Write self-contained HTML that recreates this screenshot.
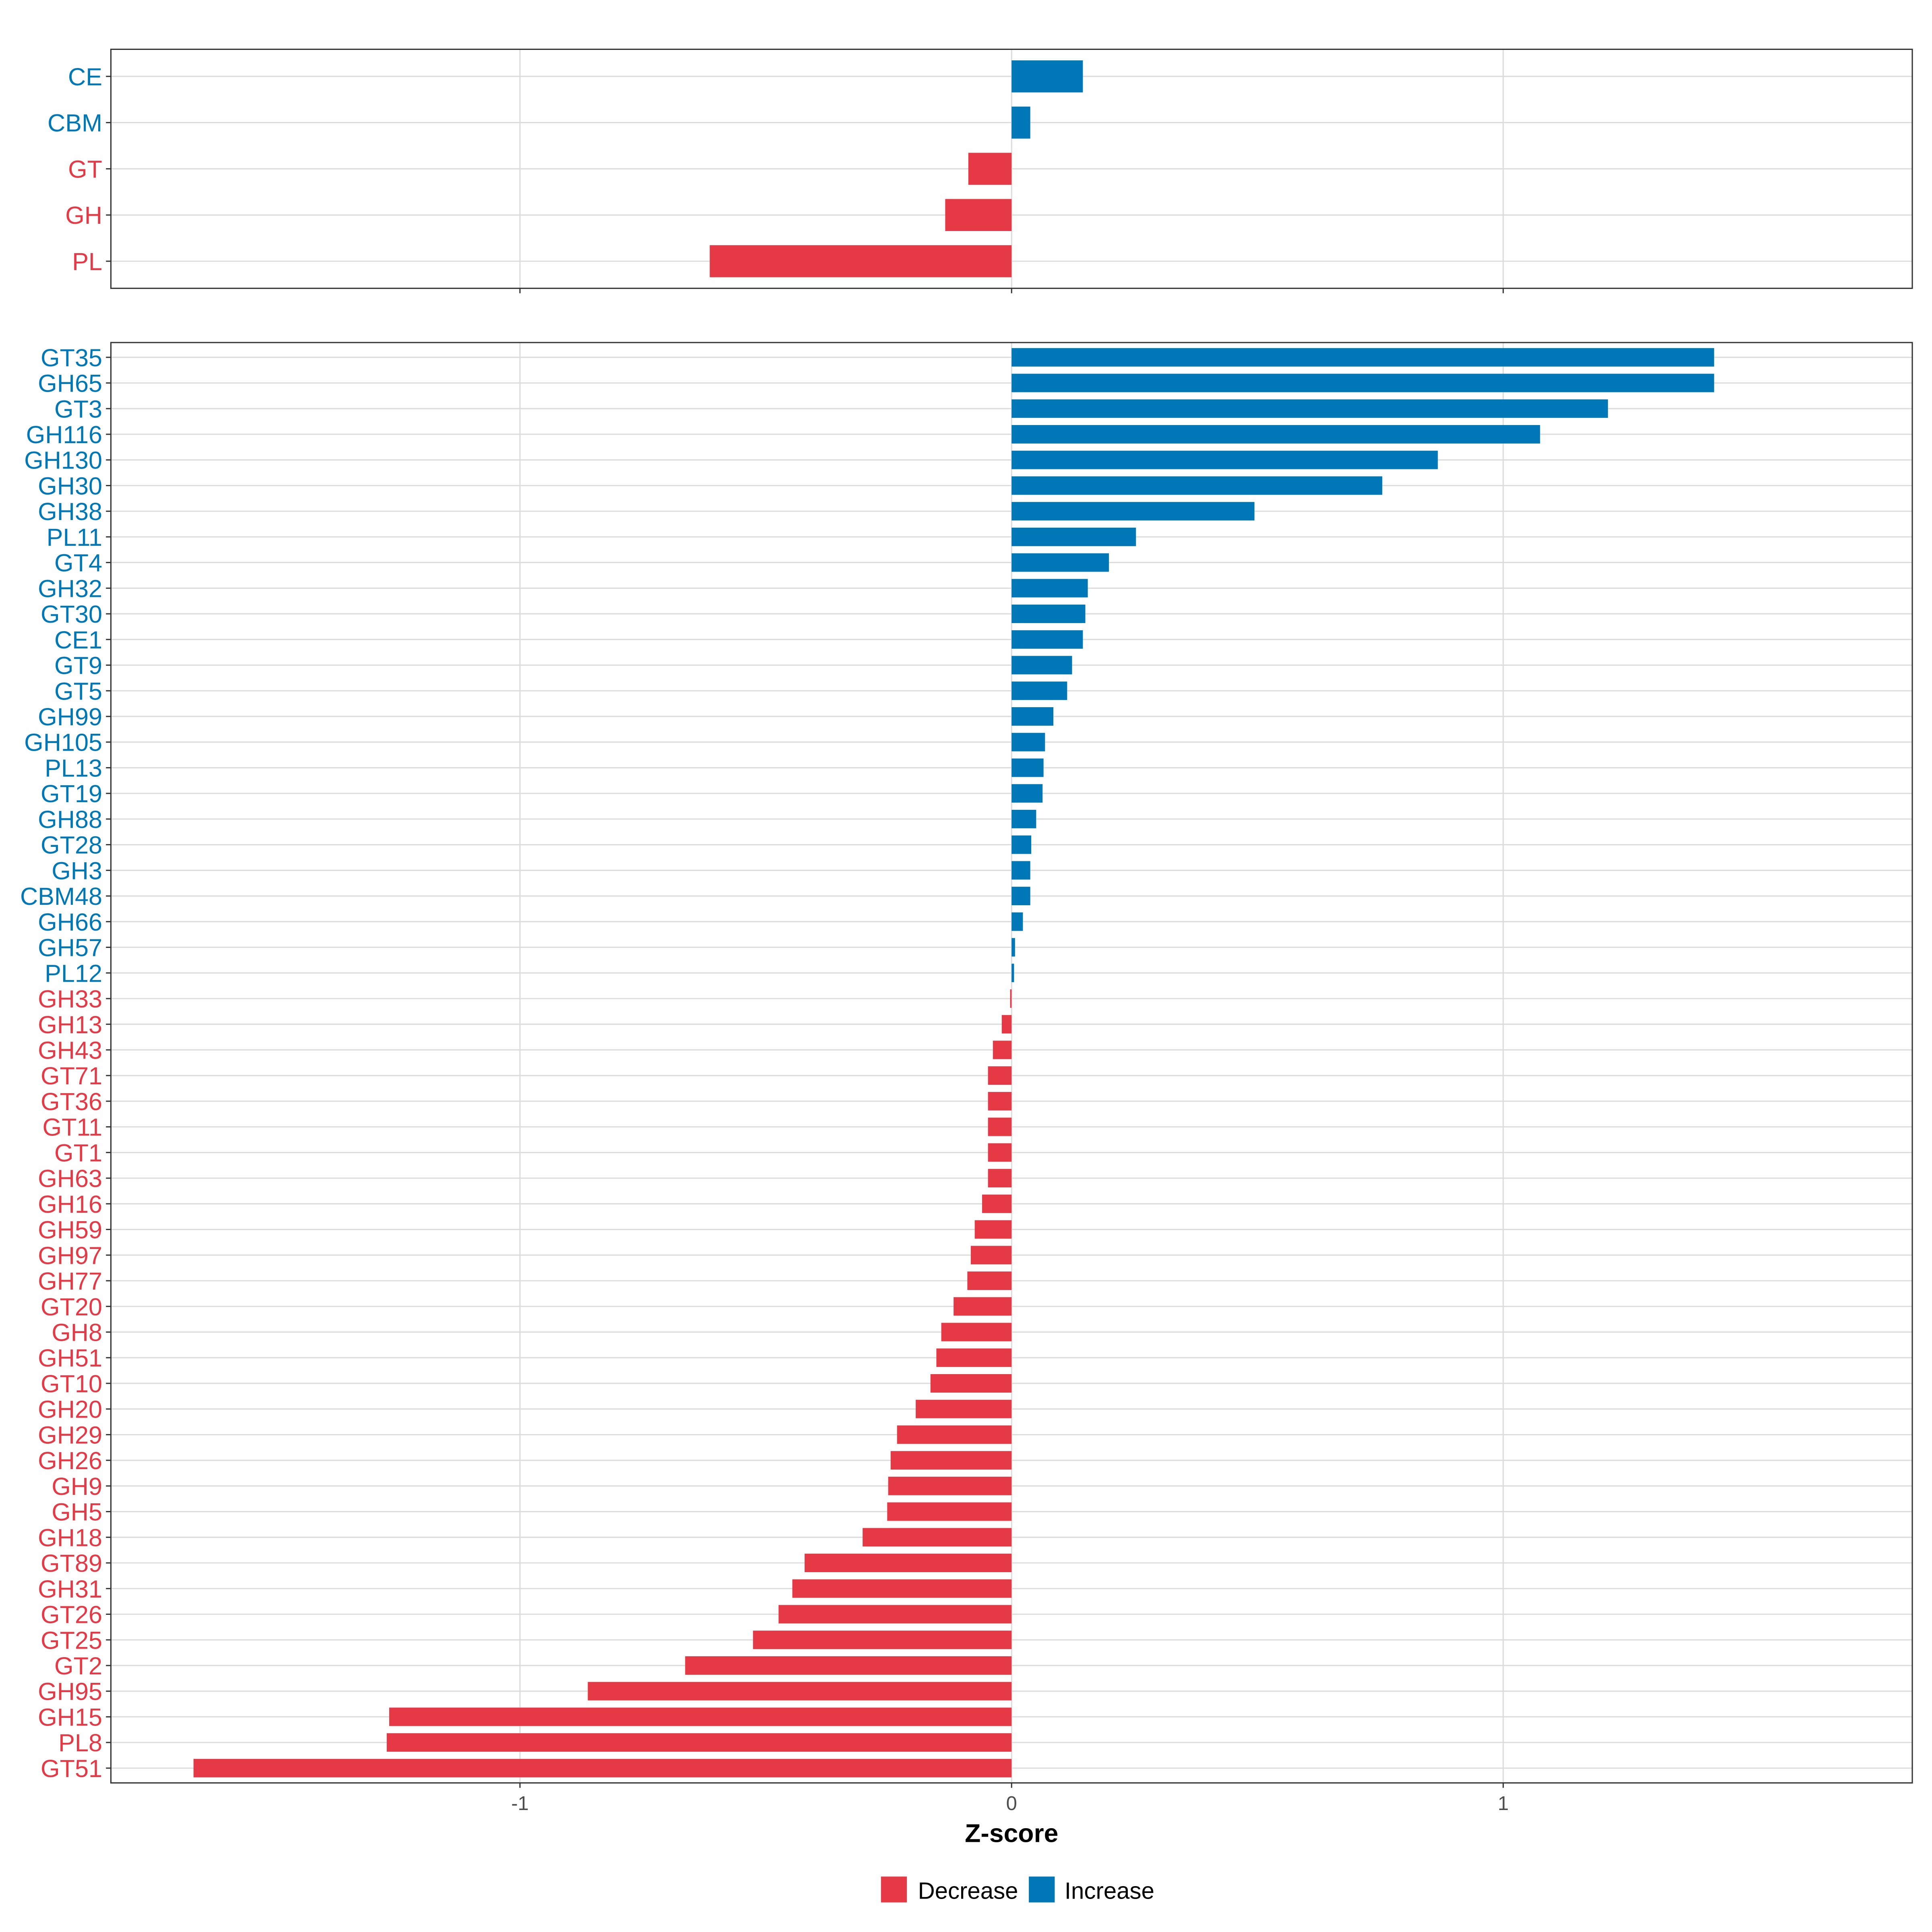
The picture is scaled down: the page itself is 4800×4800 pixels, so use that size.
<!DOCTYPE html>
<html><head><meta charset="utf-8"><style>
html,body{margin:0;padding:0;background:#fff}
svg{display:block}
text{font-family:"Liberation Sans",Arial,sans-serif}
</style></head><body>
<svg id="chart" width="4800" height="4800" viewBox="0 0 1568 1568" xmlns="http://www.w3.org/2000/svg">
<rect width="1568" height="1568" fill="#fff"/>
<g id="top"></g>
<g id="bottom"></g>
<text x="821" y="1495" font-size="21" font-weight="bold" text-anchor="middle">Z-score</text>
<g>
<g><rect x="715" y="1523" width="21" height="21" fill="#e63946"/><text x="745" y="1541" font-size="19">Decrease</text></g>
<g><rect x="835" y="1523" width="21" height="21" fill="#0077b6"/><text x="864" y="1541" font-size="19">Increase</text></g>
</g>
</svg>
<script>
const topCats = ["CE","CBM","GT","GH","PL"];
const topVals = [0.145,0.038,-0.088,-0.135,-0.614];
const botCats = ["GT35","GH65","GT3","GH116","GH130","GH30","GH38","PL11","GT4","GH32","GT30","CE1","GT9","GT5","GH99","GH105","PL13","GT19","GH88","GT28","GH3","CBM48","GH66","GH57","PL12","GH33","GH13","GH43","GT71","GT36","GT11","GT1","GH63","GH16","GH59","GH97","GH77","GT20","GH8","GH51","GT10","GH20","GH29","GH26","GH9","GH5","GH18","GT89","GH31","GT26","GT25","GT2","GH95","GH15","PL8","GT51"];
const botVals = [1.429,1.429,1.213,1.075,0.867,0.754,0.494,0.253,0.198,0.155,0.150,0.145,0.123,0.113,0.085,0.068,0.065,0.063,0.050,0.040,0.038,0.038,0.023,0.007,0.005,-0.003,-0.020,-0.038,-0.048,-0.048,-0.048,-0.048,-0.048,-0.060,-0.075,-0.083,-0.090,-0.118,-0.143,-0.153,-0.165,-0.195,-0.233,-0.246,-0.251,-0.253,-0.303,-0.421,-0.446,-0.474,-0.526,-0.664,-0.862,-1.266,-1.271,-1.664];
const xTicks = [-1,0,1];
const xTickLabels = ["-1","0","1"];

const NS="http://www.w3.org/2000/svg";
const RED="#e63946", BLUE="#0077b6";
const xScale = v => 821 + v*399;
function mk(tag, attrs, parent){const e=document.createElementNS(NS,tag);for(const k in attrs)e.setAttribute(k,attrs[k]);parent.appendChild(e);return e;}

function panel(g, cats, vals, y0, y1, firstY, step, barH, fontSize, showX){
  mk("rect",{x:90,y:y0,width:1462,height:y1-y0,fill:"#fff"},g);
  xTicks.forEach(t=>{mk("line",{x1:xScale(t),x2:xScale(t),y1:y0,y2:y1,stroke:"#dcdcdc","stroke-width":1},g);});
  cats.forEach((c,i)=>{
    const y=firstY+i*step;
    mk("line",{x1:90,x2:1552,y1:y,y2:y,stroke:"#dcdcdc","stroke-width":1},g);
  });
  cats.forEach((c,i)=>{
    const y=firstY+i*step, v=vals[i];
    const col = v>=0?BLUE:RED;
    const x0=Math.min(xScale(0),xScale(v)), w=Math.abs(xScale(v)-xScale(0));
    const r=mk("rect",{x:x0,y:y-barH/2,width:Math.max(w,0.8),height:barH,fill:col},g);
    
    
    const t=mk("text",{x:83,y:y+fontSize*0.36,"font-size":fontSize,"text-anchor":"end",fill:col},g);
    t.textContent=c;
    
    
    mk("line",{x1:86,x2:90,y1:y,y2:y,stroke:"#333","stroke-width":1},g);
  });
  mk("rect",{x:90,y:y0,width:1462,height:y1-y0,fill:"none",stroke:"#333","stroke-width":1},g);
  xTicks.forEach((t,i)=>{
    mk("line",{x1:xScale(t),x2:xScale(t),y1:y1,y2:y1+4,stroke:"#333","stroke-width":1},g);
    if(showX){
      const tx=mk("text",{x:xScale(t),y:y1+22,"font-size":16,"text-anchor":"middle",fill:"#4d4d4d"},g);
      tx.textContent=xTickLabels[i];
      
      
    }
  });
}
panel(document.getElementById("top"), topCats, topVals, 40, 234, 62, 37.5, 26, 20, false);
panel(document.getElementById("bottom"), botCats, botVals, 278, 1447, 290, (1435-290)/55, 15, 20, true);
</script>
</body></html>
